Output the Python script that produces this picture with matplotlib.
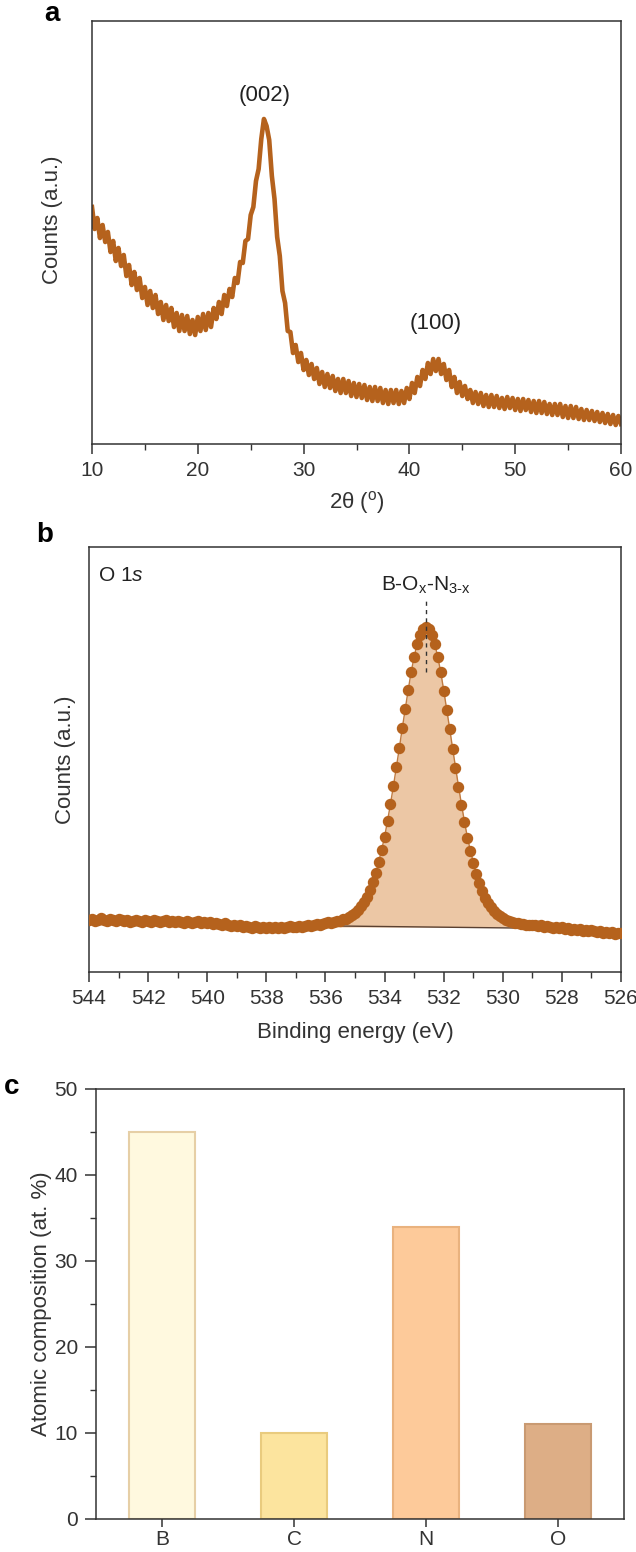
import matplotlib
matplotlib.use('Agg')
import matplotlib.pyplot as plt
import numpy as np
from matplotlib.ticker import MultipleLocator

plt.rcParams['font.family'] = ['Liberation Sans', 'DejaVu Sans']
plt.rcParams['mathtext.fontset'] = 'custom'
plt.rcParams['mathtext.rm'] = 'Liberation Sans'
plt.rcParams['mathtext.it'] = 'Liberation Sans:italic'
plt.rcParams['axes.linewidth'] = 1.1

# ---------------- Panel a: XRD (2theta from 10 to 60, step 0.25) ----------------
xrd_start = 10.0
xrd_step = 0.25
xrd_counts = [
    241, 219, 230, 210, 223, 206, 216, 196, 207, 187, 200, 182,
    193, 172, 183, 163, 176, 158, 170, 150, 161, 143, 157, 140,
    153, 134, 146, 128, 143, 127, 140, 121, 135, 117, 133, 117,
    132, 114, 128, 113, 131, 117, 134, 118, 135, 121, 140, 129,
    146, 134, 153, 142, 159, 151, 170, 165, 186, 185, 207, 209,
    233, 241, 267, 279, 309, 329, 322, 308, 272, 249, 211, 192,
    157, 145, 117, 116, 95, 103, 86, 95, 78, 88, 73, 84,
    69, 80, 64, 76, 61, 74, 60, 72, 57, 69, 55, 69,
    55, 67, 52, 65, 51, 64, 50, 63, 48, 61, 47, 61,
    47, 60, 45, 58, 44, 58, 45, 58, 44, 57, 45, 60,
    49, 65, 55, 71, 62, 78, 69, 85, 74, 89, 77, 89,
    74, 84, 68, 78, 61, 71, 55, 66, 52, 62, 49, 58,
    45, 56, 44, 55, 42, 53, 41, 53, 41, 52, 40, 50,
    39, 51, 40, 50, 38, 49, 37, 49, 38, 48, 36, 47,
    35, 47, 35, 46, 34, 44, 33, 44, 33, 44, 31, 42,
    30, 42, 30, 41, 29, 39, 28, 38, 28, 37, 27, 36,
    26, 35, 25, 34, 24, 33, 23, 32, 24,
]
xrd_peak_labels = ['(002)', '(100)']
xrd_peak_pos = [26.3, 42.5]
xrd_peak_label_h = [353, 125]

# ---------------- Panel b: XPS O 1s (544 -> 526 eV, step 0.1) ----------------
xps_start = 544.0
xps_step = -0.1
xps_counts = [
    52, 53, 51, 52, 54, 52, 51, 53, 52, 51,
    53, 52, 51, 52, 50, 51, 52, 51, 50, 52,
    51, 50, 52, 51, 50, 51, 52, 50, 51, 50,
    51, 50, 49, 51, 50, 49, 50, 51, 49, 50,
    49, 50, 48, 49, 48, 47, 49, 47, 46, 47,
    46, 47, 45, 46, 45, 44, 46, 45, 44, 45,
    44, 45, 44, 45, 44, 45, 44, 45, 46, 45,
    45, 46, 45, 46, 47, 46, 47, 48, 47, 48,
    49, 50, 49, 50, 51, 51, 53, 53, 55, 57,
    59, 62, 66, 70, 75, 82, 90, 99, 110, 122,
    135, 151, 168, 186, 205, 224, 244, 263, 282, 300,
    315, 328, 337, 343, 345, 343, 337, 328, 315, 300,
    281, 262, 243, 223, 204, 185, 167, 150, 134, 121,
    109, 98, 89, 81, 74, 69, 65, 61, 58, 56,
    54, 52, 51, 50, 49, 49, 48, 48, 47, 47,
    47,
    47, 46, 47, 45, 46, 45, 44, 45, 44, 45,
    43, 44, 42, 43, 42, 43, 41, 42, 41, 42,
    41, 40, 41, 39, 40, 39, 40, 38, 39, 39,
]
fit_start = 535.6
fit_counts = [
    50, 51, 52, 53, 55, 57, 59, 62, 66, 70,
    75, 82, 90, 99, 110, 122, 135, 151, 168, 186,
    205, 224, 244, 263, 282, 300, 315, 328, 337, 343,
    345, 343, 337, 328, 315, 300, 282, 263, 244, 224,
    205, 186, 168, 151, 135, 122, 110, 99, 90, 82,
    75, 70, 66, 62, 59, 57, 55, 53, 52, 51, 50,
]
fit_base_be = [535.6, 529.6]
fit_base = [46, 44]
peak_be = 532.6
peak_label = 'B-O$_\\mathregular{x}$-N$_\\mathregular{3\\text{-}x}$'

# ---------------- Panel c: atomic composition ----------------
elements = ['B', 'C', 'N', 'O']
at_percent = [45, 10, 34, 11]
bar_faces = ['#FFF9DF', '#FCE49E', '#FDCA9A', '#DDAE86']
bar_edges = ['#E6CFA6', '#E9CB7E', '#E9B27E', '#C99A72']

brown = '#B5621D'
W, H = 636, 1552
fig = plt.figure(figsize=(W / 100, H / 100), dpi=100)

def rect(l, t, r, b):
    return [l / W, 1 - b / H, (r - l) / W, (b - t) / H]

tick_fs = 15
lab_fs = 16

# ---- a ----
ax = fig.add_axes(rect(92, 21, 621, 444))
tt = xrd_start + xrd_step * np.arange(len(xrd_counts))
ax.plot(tt, xrd_counts, color=brown, lw=3.3, solid_joinstyle='round')
for lab, px, ph in zip(xrd_peak_labels, xrd_peak_pos, xrd_peak_label_h):
    ax.text(px, ph, lab, ha='center', va='center', fontsize=16, color='#222')
ax.set_xlim(10, 60)
ax.set_ylim(4, 427)
ax.set_yticks([])
ax.xaxis.set_major_locator(MultipleLocator(10))
ax.xaxis.set_minor_locator(MultipleLocator(5))
ax.tick_params(axis='x', which='major', length=7, width=1.1, labelsize=tick_fs, pad=5, colors='#333')
ax.tick_params(axis='x', which='minor', length=4, width=1.0, colors='#333')
ax.set_xlabel('2θ ($^\\mathregular{o}$)', fontsize=lab_fs, color='#333', va='center')
ax.xaxis.set_label_coords(0.5, -0.139)
ax.set_ylabel('Counts (a.u.)', fontsize=lab_fs, color='#333', va='center')
ax.yaxis.set_label_coords(-0.074, 0.53)
fig.text(52 / W, 1 - 14 / H, 'a', fontsize=20, fontweight='bold', ha='center', va='center')

# ---- b ----
ax = fig.add_axes(rect(89, 547, 621, 972))
be = xps_start + xps_step * np.arange(len(xps_counts))
fbe = fit_start + xps_step * np.arange(len(fit_counts))
ax.fill_between(fbe, fit_counts, 45, color='#ECC7A5', lw=0, zorder=1)
ax.plot(fit_base_be, fit_base, color='#5A4030', lw=1.0, zorder=2)
ax.plot(fbe, fit_counts, color='#C07A40', lw=1.0, zorder=2)
ax.plot(be, xps_counts, 'o', color=brown, ms=7.2, mec=brown, zorder=3)
ax.plot([peak_be, peak_be], [300, 372], color='#333', lw=1.0, ls=(0, (3, 3)), zorder=4)
ax.text(peak_be, 376, peak_label, ha='center', va='bottom', fontsize=15, color='#222')
ax.text(0.017, 0.955, 'O 1$\\mathit{s}$', transform=ax.transAxes, ha='left', va='top', fontsize=15, color='#222')
ax.set_xlim(544, 526)
ax.set_ylim(0, 425)
ax.set_yticks([])
ax.xaxis.set_major_locator(MultipleLocator(2))
ax.xaxis.set_minor_locator(MultipleLocator(1))
ax.tick_params(axis='x', which='major', length=7, width=1.1, labelsize=tick_fs, pad=5, colors='#333')
ax.tick_params(axis='x', which='minor', length=4, width=1.0, colors='#333')
ax.set_xlabel('Binding energy (eV)', fontsize=lab_fs, color='#333', va='center')
ax.xaxis.set_label_coords(0.5, -0.143)
ax.set_ylabel('Counts (a.u.)', fontsize=lab_fs, color='#333', va='center')
ax.yaxis.set_label_coords(-0.045, 0.5)
fig.text(45 / W, 1 - 535 / H, 'b', fontsize=20, fontweight='bold', ha='center', va='center')

# ---- c ----
ax = fig.add_axes(rect(96, 1089, 624, 1519))
xpos = np.arange(len(elements))
ax.bar(xpos, at_percent, width=0.5, color=bar_faces, edgecolor=bar_edges, linewidth=1.5)
ax.set_xlim(-0.5, 3.5)
ax.set_ylim(0, 50)
ax.set_xticks(xpos)
ax.set_xticklabels(elements)
ax.yaxis.set_major_locator(MultipleLocator(10))
ax.yaxis.set_minor_locator(MultipleLocator(5))
ax.tick_params(axis='y', which='major', length=8, width=1.1, labelsize=tick_fs, pad=5, colors='#333')
ax.tick_params(axis='x', which='major', length=6, width=1.1, labelsize=tick_fs, pad=2, colors='#333')
ax.tick_params(axis='y', which='minor', length=4, width=1.0, colors='#333')
ax.set_ylabel('Atomic composition (at. %)', fontsize=lab_fs, color='#333', va='center')
ax.yaxis.set_label_coords(-0.104, 0.5)
fig.text(12 / W, 1 - 1087 / H, 'c', fontsize=20, fontweight='bold', ha='center', va='center')

for a in fig.axes:
    for s in a.spines.values():
        s.set_color('#333')

fig.savefig('out.png', dpi=100)
